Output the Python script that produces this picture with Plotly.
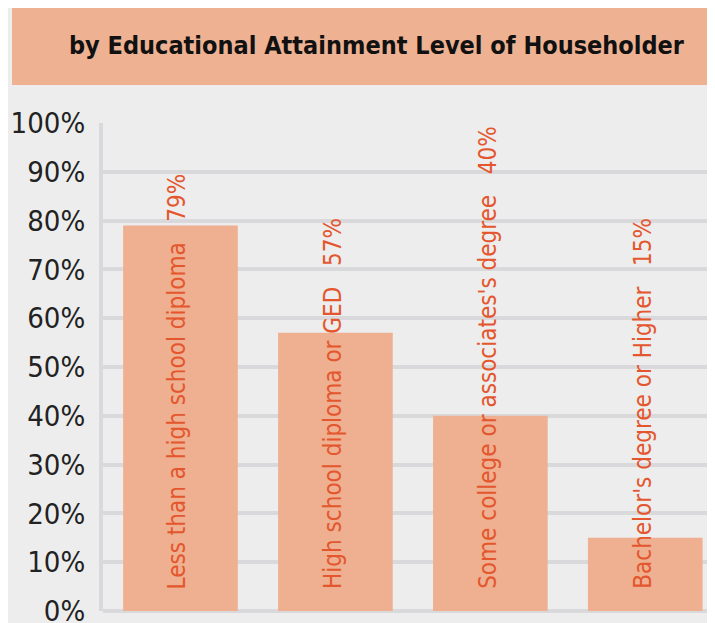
import plotly.graph_objects as go

# data
categories = [
    'Less than a high school diploma',
    'High school diploma or GED',
    "Some college or associates's degree",
    "Bachelor's degree or Higher",
]
values = [79, 57, 40, 15]
tick_vals = [0, 10, 20, 30, 40, 50, 60, 70, 80, 90, 100]
tick_text = [f'{v}%' for v in tick_vals]
title_text = 'by Educational Attainment Level of Householder'

BG = '#EDEDED'
BAR = '#EEB090'
LABEL = '#E4572E'
GRID = '#D9D9DB'
FONT = 'Liberation Sans Narrow, DejaVu Sans Condensed, Arial Narrow, sans-serif'

x_pos = list(range(len(categories)))

fig = go.Figure()

fig.add_trace(go.Bar(
    x = x_pos,
    y = values,
    width = 0.74,
    marker = dict(color = BAR, line = dict(width = 0)),
    hoverinfo = 'skip',
    showlegend = False
))

# rotated labels starting at the bar base
for x, cat, v in zip(x_pos, categories, values):
    fig.add_annotation(
        x = x, y = 0,
        xref = 'x', yref = 'y',
        text = f'{cat}\u00a0\u00a0\u00a0{v}%',
        textangle = -90,
        xanchor = 'center', yanchor = 'bottom',
        yshift = 20,
        xshift = -3,
        showarrow = False,
        font = dict(family = FONT, size = 24, color = LABEL)
    )

# title banner
fig.add_shape(
    type = 'rect', xref = 'paper', yref = 'paper',
    x0 = -0.1487, x1 = 1.02, y0 = 1.0779, y1 = 1.2418,
    fillcolor = '#EEB192', line = dict(width = 0), layer = 'below'
)
fig.add_annotation(
    x = 0.4477, y = 1.158, xref = 'paper', yref = 'paper',
    text = f'<b>{title_text}</b>',
    showarrow = False,
    xanchor = 'center', yanchor = 'middle',
    font = dict(family = FONT, size = 25, color = '#111111')
)

# the page body adds 8px, so margins are offset by that much
fig.update_layout(
    width = 715,
    height = 623,
    margin = dict(l = 95, r = 8, t = 115, b = 20),
    paper_bgcolor = BG,
    plot_bgcolor = BG,
    xaxis = dict(
        range = [-0.5, 3.45],
        showticklabels = False,
        showgrid = False,
        zeroline = False,
        showline = False,
        automargin = False,
        fixedrange = True
    ),
    yaxis = dict(
        range = [0, 100],
        tickvals = tick_vals,
        ticktext = tick_text,
        tickfont = dict(family = FONT, size = 29, color = '#222222'),
        ticklabelstandoff = 8,
        showgrid = True,
        gridcolor = GRID,
        gridwidth = 4,
        zeroline = True,
        zerolinecolor = GRID,
        zerolinewidth = 4,
        showline = True,
        linecolor = GRID,
        linewidth = 4,
        automargin = False,
        fixedrange = True
    )
)

fig.write_html('out.html')
